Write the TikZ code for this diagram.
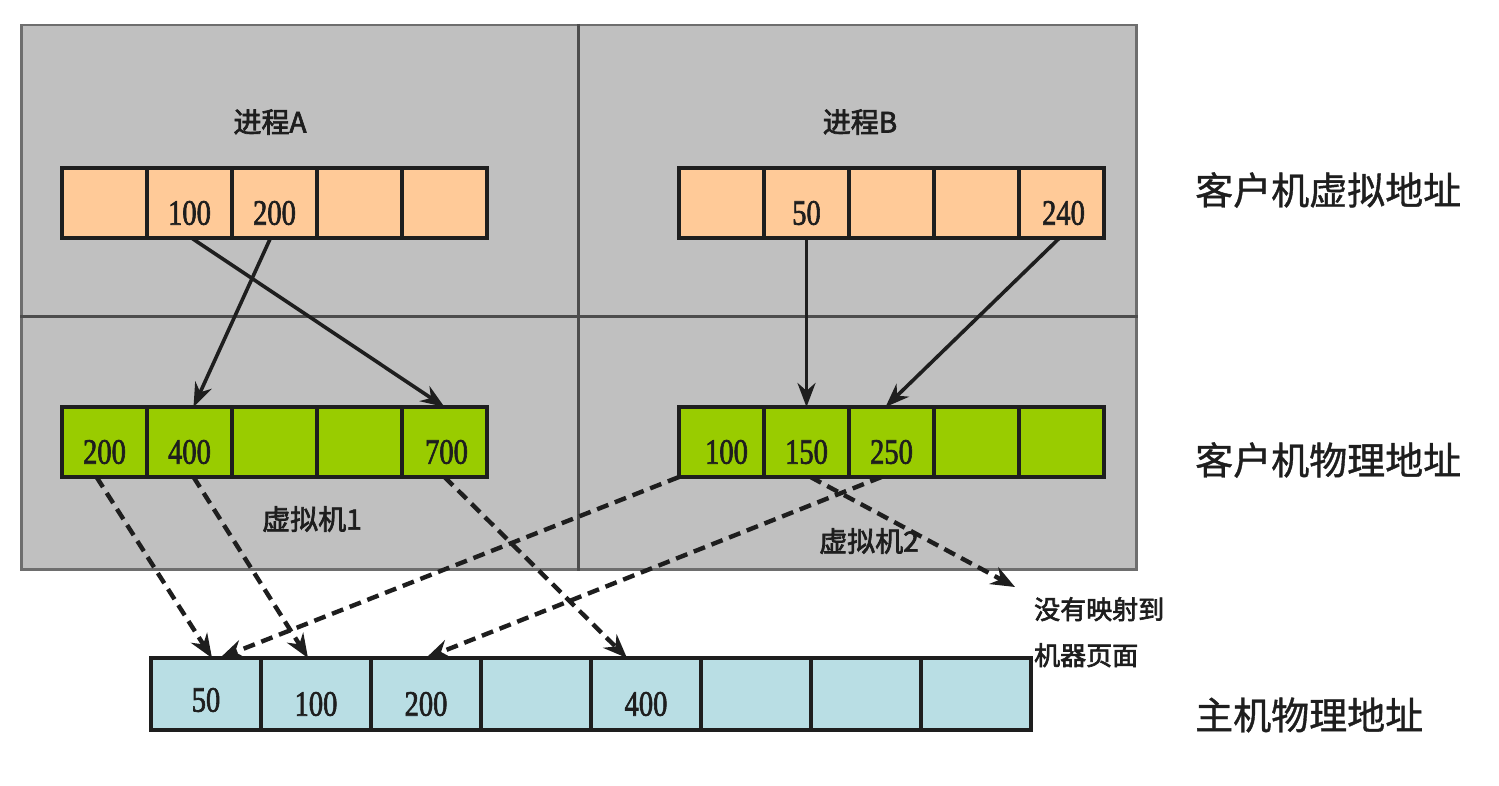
\documentclass[tikz,border=0pt]{standalone}
\usepackage{fontspec}
\setmainfont[FakeBold=1.2]{Liberation Serif}
\newfontfamily\numfont[FakeBold=2]{Liberation Serif}
\newfontfamily\cjk[FakeBold=1]{Noto Sans CJK SC}
\newfontfamily\cjkb[FakeBold=2.5]{Noto Sans CJK SC}
\usetikzlibrary{arrows.meta}
\definecolor{panelgray}{RGB}{192,192,192}
\definecolor{panelline}{RGB}{110,110,110}
\definecolor{peach}{RGB}{255,202,152}
\definecolor{limegreen}{RGB}{153,204,0}
\definecolor{paleblue}{RGB}{185,222,228}
\definecolor{ink}{RGB}{30,30,30}
\newcommand\numtxt[1]{\scalebox{0.92}[1.15]{\numfont\fontsize{31}{36}\selectfont #1}}
\tikzset{
  cellbox/.style={draw=ink, line width=4pt, minimum height=70pt, inner sep=0pt, outer sep=0pt, anchor=north west},
  vcell/.style={cellbox, fill=peach, minimum width=85pt},
  gcell/.style={cellbox, fill=limegreen, minimum width=85pt},
  hcell/.style={cellbox, fill=paleblue, minimum width=110pt, minimum height=72pt},
  numlab/.style={inner sep=0pt, text=ink},
  maplink/.style={draw=ink, line width=3.6pt, -{Stealth[length=24pt,width=18pt]}},
  hostlink/.style={draw=ink, line width=4.4pt, dash pattern=on 12pt off 7pt, -{Stealth[length=24pt,width=19pt]}},
  sidelab/.style={anchor=west, inner sep=0pt, text=ink, font=\cjk\fontsize{38}{40}\selectfont},
  boxlab/.style={inner sep=0pt, text=ink, font=\cjkb\fontsize{28}{32}\selectfont}
}
\begin{document}
\begin{tikzpicture}[x=1pt,y=-1pt]
\useasboundingbox (0,0) rectangle (1499,786);
% panel
\node[draw=panelline, line width=2.5pt, fill=panelgray, minimum width=1115pt, minimum height=544pt, anchor=north west, inner sep=0pt] (panel) at (20,24) {};
\draw[draw=panelline!70!black, line width=3pt] (panel.north) -- (panel.south);
\draw[draw=panelline!70!black, line width=3pt] ([yshift=-19pt]panel.west) -- ([yshift=-19pt]panel.east);
% labels
\node[boxlab] (pa) at (270,122) {进程A};
\node[boxlab] (pb) at (860,122) {进程B};
\node[boxlab] (vm1) at (312,519) {虚拟机1};
\node[boxlab] (vm2) at (869,541) {虚拟机2};
% cells
\foreach \i in {1,...,5} {\node[vcell] (oa\i) at ({62+85*(\i-1)},168) {};}
\foreach \i in {1,...,5} {\node[vcell] (ob\i) at ({679+85*(\i-1)},168) {};}
\foreach \i in {1,...,5} {\node[gcell] (ga\i) at ({62+85*(\i-1)},407) {};}
\foreach \i in {1,...,5} {\node[gcell] (gb\i) at ({679+85*(\i-1)},407) {};}
\foreach \i in {1,...,8} {\node[hcell] (hc\i) at ({151+110*(\i-1)},658) {};}
% numbers
\node[numlab] (n1) at ([yshift=-10pt]oa2.center) {\numtxt{100}};
\node[numlab] (n2) at ([yshift=-10pt]oa3.center) {\numtxt{200}};
\node[numlab] (n3) at ([yshift=-10pt]ob2.center) {\numtxt{50}};
\node[numlab] (n4) at ([yshift=-10pt,xshift=2pt]ob5.center) {\numtxt{240}};
\node[numlab] (n5) at ([yshift=-10pt]ga1.center) {\numtxt{200}};
\node[numlab] (n6) at ([yshift=-10pt]ga2.center) {\numtxt{400}};
\node[numlab] (n7) at ([yshift=-10pt,xshift=2pt]ga5.center) {\numtxt{700}};
\node[numlab] (n8) at ([yshift=-10pt,xshift=5pt]gb1.center) {\numtxt{100}};
\node[numlab] (n9) at ([yshift=-10pt]gb2.center) {\numtxt{150}};
\node[numlab] (n10) at ([yshift=-10pt]gb3.center) {\numtxt{250}};
\node[numlab] (n11) at ([yshift=-6pt]hc1.center) {\numtxt{50}};
\node[numlab] (n12) at ([yshift=-10pt]hc2.center) {\numtxt{100}};
\node[numlab] (n13) at ([yshift=-10pt]hc3.center) {\numtxt{200}};
\node[numlab] (n14) at ([yshift=-10pt]hc5.center) {\numtxt{400}};
% side labels
\node[sidelab] (s1) at (1195,190) {客户机虚拟地址};
\node[sidelab] (s2) at (1195,460) {客户机物理地址};
\node[sidelab] (s3) at (1195,715) {主机物理地址};
% no mapping label
\node[anchor=north west, inner sep=0pt, align=left, text=ink, font=\cjkb\fontsize{26}{46}\selectfont] (nomaplab) at (1034,597) {没有映射到\\机器页面};
\coordinate (nomap) at (1015,587);
% solid arrows
\draw[maplink] ([xshift=2pt]oa2.south) -- (ga5.north);
\draw[maplink] ([xshift=-4pt]oa3.south) -- ([xshift=4pt]ga2.north);
\draw[maplink] (ob2.south) -- (gb2.north);
\draw[maplink] ([xshift=-2pt]ob5.south) -- ([xshift=-6pt]gb3.north);
% dashed arrows
\draw[hostlink] ([xshift=-8pt]ga1.south) -- ([xshift=6pt]hc1.north);
\draw[hostlink] ([xshift=4pt]ga2.south) -- ([xshift=-8pt]hc2.north);
\draw[hostlink] (ga5.south) -- ([xshift=-19pt]hc5.north);
\draw[hostlink] (gb1.south west) -- ([xshift=14pt]hc1.north);
\draw[hostlink] ([xshift=-10pt]gb3.south) -- (hc3.north);
\draw[hostlink] ([xshift=4pt]gb2.south) -- (nomap);
\end{tikzpicture}
\end{document}
